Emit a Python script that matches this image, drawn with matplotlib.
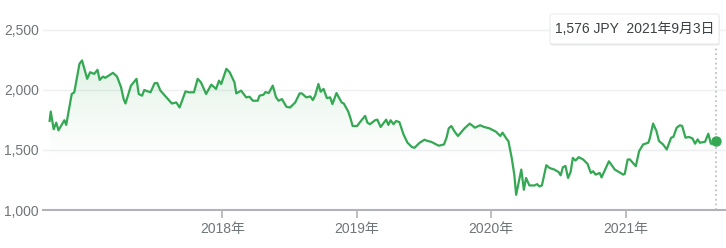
import matplotlib
matplotlib.use("Agg")
import matplotlib.pyplot as plt
import matplotlib.dates as mdates
import numpy as np
import pandas as pd
from matplotlib.patches import FancyBboxPatch

dates = [
    "2016-09-19", "2016-09-22", "2016-09-30", "2016-10-07", "2016-10-13", "2016-10-29",
    "2016-11-03", "2016-11-18", "2016-11-25", "2016-12-09", "2016-12-16", "2016-12-30",
    "2017-01-07", "2017-01-18", "2017-01-27", "2017-02-02", "2017-02-11", "2017-02-17",
    "2017-03-10", "2017-03-21", "2017-04-01", "2017-04-08", "2017-04-13", "2017-04-28",
    "2017-05-13", "2017-05-19", "2017-05-28", "2017-06-03", "2017-06-20", "2017-07-01",
    "2017-07-08", "2017-07-17", "2017-08-04", "2017-08-17", "2017-08-29", "2017-09-07",
    "2017-09-23", "2017-10-02", "2017-10-16", "2017-10-26", "2017-11-04", "2017-11-18",
    "2017-12-02", "2017-12-15", "2017-12-23", "2017-12-29",
    "2018-01-12", "2018-01-21", "2018-02-03", "2018-02-08", "2018-02-21", "2018-03-07",
    "2018-03-16", "2018-03-25", "2018-04-07", "2018-04-12", "2018-04-23", "2018-04-28",
    "2018-05-07", "2018-05-18", "2018-05-27", "2018-06-03", "2018-06-12", "2018-06-24",
    "2018-07-04", "2018-07-18", "2018-07-30", "2018-08-05", "2018-08-17", "2018-08-28",
    "2018-09-04", "2018-09-10", "2018-09-19", "2018-09-25", "2018-10-03", "2018-10-12",
    "2018-10-21", "2018-10-27", "2018-11-07", "2018-11-21", "2018-11-27", "2018-12-09",
    "2018-12-15", "2018-12-21",
    "2019-01-02", "2019-01-14", "2019-01-24", "2019-01-30", "2019-02-06", "2019-02-20",
    "2019-02-26", "2019-03-07", "2019-03-22", "2019-03-28", "2019-04-03", "2019-04-11",
    "2019-04-18", "2019-04-27", "2019-05-08", "2019-05-19", "2019-05-31", "2019-06-07",
    "2019-06-21", "2019-07-04", "2019-07-13", "2019-07-22", "2019-08-12", "2019-08-26",
    "2019-09-02", "2019-09-08", "2019-09-15", "2019-09-24", "2019-10-03", "2019-10-21",
    "2019-11-04", "2019-11-18", "2019-12-02", "2019-12-13", "2019-12-27",
    "2020-01-14", "2020-01-26", "2020-02-01", "2020-02-13", "2020-02-17", "2020-02-26",
    "2020-03-04", "2020-03-09", "2020-03-23", "2020-03-30", "2020-04-05", "2020-04-14",
    "2020-04-28", "2020-05-05", "2020-05-11", "2020-05-18", "2020-05-30", "2020-06-08",
    "2020-06-21", "2020-07-02", "2020-07-08", "2020-07-14", "2020-07-21", "2020-07-28",
    "2020-08-04", "2020-08-10", "2020-08-17", "2020-08-26", "2020-09-07", "2020-09-19",
    "2020-09-28", "2020-10-04", "2020-10-11", "2020-10-22", "2020-10-27", "2020-11-16",
    "2020-12-02", "2020-12-25", "2020-12-29",
    "2021-01-06", "2021-01-12", "2021-01-28", "2021-02-06", "2021-02-17", "2021-03-03",
    "2021-03-07", "2021-03-16", "2021-03-25", "2021-04-01", "2021-04-12", "2021-04-22",
    "2021-05-04", "2021-05-10", "2021-05-19", "2021-05-28", "2021-06-03", "2021-06-12",
    "2021-06-21", "2021-07-01", "2021-07-08", "2021-07-15", "2021-07-21", "2021-08-04",
    "2021-08-13", "2021-08-20", "2021-08-29", "2021-09-03",
]

prices = [
    1740, 1818, 1671, 1726, 1662, 1746,
    1707, 1964, 1978, 2215, 2243, 2090,
    2145, 2131, 2165, 2081, 2109, 2098,
    2140, 2109, 2020, 1922, 1885, 2034,
    2090, 1964, 1950, 1997, 1978, 2053,
    2056, 1992, 1930, 1885, 1894, 1852,
    1986, 1978, 1978, 2090, 2061, 1964,
    2042, 2006, 2075, 2047,
    2173, 2145, 2061, 1969, 1992, 1936,
    1941, 1908, 1908, 1950, 1958, 1980,
    1972, 2034, 1936, 1908, 1922, 1858,
    1852, 1894, 1969, 1969, 1936, 1944,
    1914, 1950, 2047, 1983, 2006, 1930,
    1936, 1880, 1972, 1894, 1885, 1818,
    1763, 1698,
    1698, 1746, 1782, 1726, 1713, 1746,
    1751, 1690, 1751, 1707, 1746, 1713,
    1740, 1730, 1629, 1559, 1523, 1517,
    1559, 1584, 1573, 1567, 1534, 1545,
    1601, 1679, 1698, 1651, 1615, 1679,
    1718, 1684, 1704, 1690, 1679,
    1651, 1615, 1643, 1587, 1573, 1433,
    1294, 1126, 1336, 1168, 1266, 1204,
    1204, 1215, 1196, 1204, 1372, 1349,
    1336, 1316, 1288, 1355, 1366, 1266,
    1316, 1433, 1411, 1439, 1420, 1383,
    1308, 1322, 1294, 1308, 1271, 1405,
    1336, 1294, 1300,
    1420, 1420, 1364, 1489, 1545, 1559,
    1595, 1718, 1657, 1573, 1545, 1503,
    1601, 1607, 1684, 1704, 1698, 1601,
    1607, 1595, 1551, 1587, 1559, 1567,
    1634, 1551, 1551, 1576,
]

y_ticks = [1000, 1500, 2000, 2500]
y_tick_labels = ["1,000", "1,500", "2,000", "2,500"]
x_tick_dates = ["2018-01-01", "2019-01-01", "2020-01-01", "2021-01-01"]
x_tick_labels = ["2018年", "2019年", "2020年", "2021年"]
tooltip_text = "1,576 JPY  2021年9月3日"

FONT = ["Liberation Sans", "Noto Sans CJK JP", "DejaVu Sans"]
plt.rcParams["font.family"] = FONT

GREEN = "#34a853"
GRAY = "#70757a"

d = pd.to_datetime(dates)
x = mdates.date2num(d)
y = np.array(prices, dtype=float)

W, H = 726, 248
fig = plt.figure(figsize=(W / 100, H / 100), dpi=100)
fig.patch.set_facecolor("white")

left_px, right_px = 43, 726
top_px, bot_px = 29.5, 210
ax = fig.add_axes([left_px / W, 1 - bot_px / H, (right_px - left_px) / W, (bot_px - top_px) / H])
ax.set_facecolor("white")

# x range: map so that first point sits slightly right of axis start
x0 = mdates.date2num(pd.Timestamp("2016-09-01"))
x1 = mdates.date2num(pd.Timestamp("2021-09-03")) + 27
ax.set_xlim(x0, x1)
ax.set_ylim(1000, 2500)

# grid lines
for v in y_ticks[1:]:
    ax.axhline(v, color="#eeeff1", lw=1.0, zorder=0, clip_on=False)

# gradient fill under line
poly = ax.fill_between(x, y, 1000, color="none", lw=0)
grad_top, grad_bot = 2260, 1380
ng = 256
alpha = np.linspace(0, 1, ng).reshape(-1, 1) ** 1.3 * 0.16
rgba = np.zeros((ng, 1, 4))
rgba[..., 0] = 0x34 / 255
rgba[..., 1] = 0xa8 / 255
rgba[..., 2] = 0x53 / 255
rgba[..., 3] = alpha
im = ax.imshow(rgba, extent=[x[0], x[-1], grad_bot, grad_top], origin="lower",
               aspect="auto", zorder=1, interpolation="bilinear")
path = poly.get_paths()[0]
im.set_clip_path(path, transform=ax.transData)

ax.plot(x, y, color=GREEN, lw=1.6, zorder=3, solid_joinstyle="round")
ax.plot([x[-1]], [y[-1]], "o", color=GREEN, ms=6.5, zorder=4)

# dotted vertical line
ax.plot([x[-1], x[-1]], [1000, 2360], color="#bdc1c6", lw=1.3,
        linestyle=(0, (1, 1.6)), zorder=2, clip_on=False)

# axes styling
for s in ["top", "right", "left"]:
    ax.spines[s].set_visible(False)
ax.spines["bottom"].set_color("#b1b3b8")
ax.spines["bottom"].set_linewidth(1.5)

ax.set_yticks(y_ticks)
ax.set_yticklabels(y_tick_labels)
ax.tick_params(axis="y", length=0, pad=3, labelsize=10, labelcolor=GRAY)

ax.set_xticks(mdates.date2num(pd.to_datetime(x_tick_dates)))
ax.set_xticklabels(x_tick_labels)
ax.tick_params(axis="x", length=6, width=1.2, color="#b1b3b8", pad=3,
               labelsize=10, labelcolor=GRAY)

# tooltip box
bx0, bx1, by0, by1 = 550, 719, 14, 44
shadow = FancyBboxPatch((bx0 / W + 0.0007, 1 - (by1 + 1.5) / H), (bx1 - bx0) / W, (by1 - by0) / H,
                        boxstyle="round,pad=0,rounding_size=0.004", transform=fig.transFigure,
                        facecolor="#d7d8da", edgecolor="none", zorder=9, alpha=0.6)
fig.patches.append(shadow)
box = FancyBboxPatch((bx0 / W, 1 - by1 / H), (bx1 - bx0) / W, (by1 - by0) / H,
                     boxstyle="round,pad=0,rounding_size=0.004", transform=fig.transFigure,
                     facecolor="white", edgecolor="#e6e7e9", lw=0.6, zorder=10)
fig.patches.append(box)
fig.text((bx0 + bx1) / 2 / W, 1 - 29 / H, tooltip_text, ha="center", va="center",
         fontsize=10, color="#3c4043", zorder=11)

fig.savefig("out.png", dpi=100, facecolor="white")
